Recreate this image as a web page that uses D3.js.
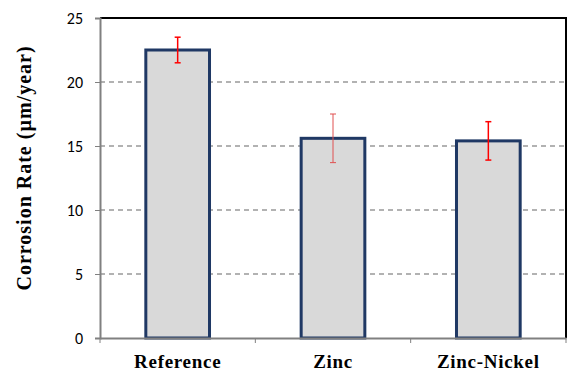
<!DOCTYPE html>
<html>
<head>
<meta charset="utf-8">
<script src="https://cdn.jsdelivr.net/npm/d3@7"></script>
<style>
  body { margin: 0; background: #fff; }
</style>
</head>
<body>
<svg id="chart" width="569" height="372"></svg>
<script>
const categories = ['Reference', 'Zinc', 'Zinc-Nickel'];
const rates = [22.5, 15.6, 15.4];
const errLow = [21.5, 13.7, 13.9];
const errHigh = [23.5, 17.5, 16.9];
const yTicks = [0, 5, 10, 15, 20, 25];

const svg = d3.select('#chart');
const margin = { top: 18, right: 3, bottom: 34, left: 100 };
const width = 569 - margin.left - margin.right;
const height = 372 - margin.top - margin.bottom;

const x = d3.scaleBand().domain(categories).range([0, width]).paddingInner(0.59).paddingOuter(0.295);
const y = d3.scaleLinear().domain([0, 25]).range([height, 0]);

const g = svg.append('g').attr('transform', `translate(${margin.left},${margin.top})`);

// dashed gridlines
g.selectAll('line.grid')
  .data(yTicks.filter(d => d > 0 && d < 25))
  .enter()
  .append('line')
  .attr('x1', 0)
  .attr('x2', width)
  .attr('y1', d => y(d))
  .attr('y2', d => y(d))
  .attr('stroke', '#999')
  .attr('stroke-width', 1.3)
  .attr('stroke-dasharray', '5,4');

// top and right border
g.append('path')
  .attr('d', `M0,${y(25)}H${width}V${height}`)
  .attr('fill', 'none')
  .attr('stroke', '#000')
  .attr('stroke-width', 2);

// bars
g.selectAll('rect.bar')
  .data(categories)
  .enter()
  .append('rect')
  .attr('x', d => x(d))
  .attr('y', (d, i) => y(rates[i]))
  .attr('width', x.bandwidth())
  .attr('height', (d, i) => height - y(rates[i]))
  .attr('fill', '#d9d9d9')
  .attr('stroke', '#1f3864')
  .attr('stroke-width', 3);

// error bars
const err = g.selectAll('g.err')
  .data(categories)
  .enter()
  .append('g')
  .attr('stroke', (d, i) => (i === 1 ? '#e05050' : '#ff0000'))
  .attr('stroke-width', (d, i) => (i === 1 ? 1 : 1.5));
const cx = d => x(d) + x.bandwidth() / 2;
err.append('line')
  .attr('x1', cx).attr('x2', cx)
  .attr('y1', (d, i) => y(errLow[i]))
  .attr('y2', (d, i) => y(errHigh[i]));
err.append('line')
  .attr('x1', d => cx(d) - 3).attr('x2', d => cx(d) + 3)
  .attr('y1', (d, i) => y(errLow[i]))
  .attr('y2', (d, i) => y(errLow[i]));
err.append('line')
  .attr('x1', d => cx(d) - 3).attr('x2', d => cx(d) + 3)
  .attr('y1', (d, i) => y(errHigh[i]))
  .attr('y2', (d, i) => y(errHigh[i]));

// y axis
const yAxis = g.append('g')
  .call(d3.axisLeft(y).tickValues(yTicks).tickSize(5).tickPadding(12));
yAxis.select('.domain').attr('stroke', '#808080').attr('stroke-width', 2);
yAxis.selectAll('.tick line').attr('stroke', '#808080');
yAxis.selectAll('text')
  .attr('font-family', 'Carlito, "Liberation Sans", sans-serif')
  .attr('font-size', 16)
  .attr('fill', '#000');

// x axis
const xAxis = g.append('g')
  .attr('transform', `translate(0,${height})`)
  .call(d3.axisBottom(x).tickSize(0).tickPadding(17));
xAxis.select('.domain').attr('stroke', '#808080').attr('stroke-width', 2);
xAxis.selectAll('text')
  .attr('font-family', '"Liberation Serif", serif')
  .attr('font-weight', 'bold')
  .attr('font-size', 19)
  .attr('letter-spacing', 0.7)
  .attr('fill', '#000');
xAxis.selectAll('line.sep')
  .data(d3.range(categories.length + 1))
  .enter()
  .append('line')
  .attr('class', 'sep')
  .attr('x1', i => (i * width) / categories.length)
  .attr('x2', i => (i * width) / categories.length)
  .attr('y1', 0)
  .attr('y2', 5)
  .attr('stroke', '#808080');

// y title
svg.append('text')
  .attr('transform', 'translate(31,168) rotate(-90)')
  .attr('text-anchor', 'middle')
  .attr('font-family', '"Liberation Serif", serif')
  .attr('font-weight', 'bold')
  .attr('font-size', 20)
  .attr('letter-spacing', 1)
  .text('Corrosion Rate (µm/year)');
</script>
</body>
</html>
